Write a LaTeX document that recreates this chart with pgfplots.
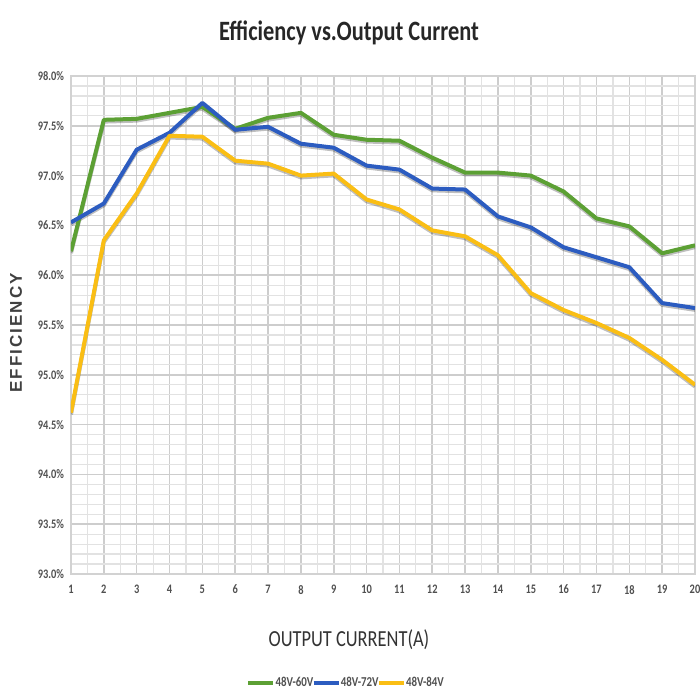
\documentclass[border=0pt]{standalone}
\usepackage{fontspec}
\setmainfont{Carlito}[FakeStretch=0.8]
\newfontfamily\ylabfont{Liberation Sans}[LetterSpace=12]
\usepackage{pgfplots}
\pgfplotsset{compat=1.18}
\definecolor{cgreen}{RGB}{92,160,52}
\definecolor{cblue}{RGB}{44,92,192}
\definecolor{cyellow}{RGB}{250,190,20}
\definecolor{tickgray}{RGB}{80,80,80}
\begin{document}
\begin{tikzpicture}
\begin{axis}[
  scale only axis,
  width=312pt, height=249pt,
  xmin=1, xmax=20, ymin=93, ymax=98,
  xtick={1,...,20},
  ytick={93,93.5,...,98},
  minor x tick num=1,
  minor y tick num=4,
  grid=both,
  major grid style={draw={rgb,255:red,205;green,205;blue,205}, line width=0.8pt},
  minor grid style={draw={rgb,255:red,226;green,226;blue,226}, line width=0.6pt},
  axis line style={draw={rgb,255:red,210;green,210;blue,210}, line width=0.8pt},
  major tick length=0pt, minor tick length=0pt,
  /pgf/number format/assume math mode=true,
  tick label style={font=\fontsize{6.5}{7}\selectfont\bfseries, text=tickgray},
  yticklabel={\pgfmathprintnumber[fixed,fixed zerofill,precision=1]{\tick}\%},
  xticklabel style={yshift=-2pt},
  title={Efficiency vs.Output Current},
  title style={font=\fontsize{14}{16}\selectfont\bfseries, text=black!85, at={(0.5,1)}, anchor=center, yshift=15.5pt, xshift=-17pt},
  xlabel={OUTPUT CURRENT(A)},
  xlabel style={font=\fontsize{11.5}{13}\selectfont, text=black!80, at={(0.5,0)}, anchor=center, yshift=-33pt, xshift=-17pt},
  ylabel={EFFICIENCY},
  ylabel style={font=\ylabfont\fontsize{8.5}{10}\selectfont\bfseries, text=black!75, at={(0,0.5)}, anchor=center, yshift=27.5pt, xshift=-4pt},
  legend style={at={(0.5,0)}, anchor=center, yshift=-54.5pt, xshift=-18pt, draw=none, fill=none,
    font=\fontsize{6.8}{7}\selectfont\bfseries, text=tickgray, legend columns=3,
    /tikz/every even column/.style={column sep=-3pt},
    /tikz/every odd column/.style={column sep=-2pt},
    /tikz/inner xsep=0.3pt},
  legend image code/.code={\draw[#1, line width=2.2pt] (0,0) -- (0.44cm,0);},
  every axis plot/.append style={line width=2pt, line join=round},
]
% shadows
\addplot[draw=black, opacity=0.25, yshift=-0.9pt, forget plot] coordinates {(1,96.24) (2,97.56) (3,97.57) (4,97.63) (5,97.69) (6,97.47) (7,97.58) (8,97.63) (9,97.41) (10,97.36) (11,97.35) (12,97.18) (13,97.03) (14,97.03) (15,97.00) (16,96.84) (17,96.57) (18,96.49) (19,96.22) (20,96.30)};
\addplot[draw=black, opacity=0.25, yshift=-0.9pt, forget plot] coordinates {(1,96.53) (2,96.72) (3,97.26) (4,97.43) (5,97.73) (6,97.46) (7,97.49) (8,97.32) (9,97.28) (10,97.10) (11,97.06) (12,96.87) (13,96.86) (14,96.59) (15,96.48) (16,96.28) (17,96.18) (18,96.08) (19,95.72) (20,95.67)};
\addplot[draw=black, opacity=0.25, yshift=-0.9pt, forget plot] coordinates {(1,94.62) (2,96.35) (3,96.82) (4,97.40) (5,97.39) (6,97.15) (7,97.12) (8,97.00) (9,97.02) (10,96.76) (11,96.66) (12,96.45) (13,96.39) (14,96.20) (15,95.82) (16,95.65) (17,95.52) (18,95.37) (19,95.15) (20,94.90)};
% series
\addplot[draw=cgreen] coordinates {(1,96.24) (2,97.56) (3,97.57) (4,97.63) (5,97.69) (6,97.47) (7,97.58) (8,97.63) (9,97.41) (10,97.36) (11,97.35) (12,97.18) (13,97.03) (14,97.03) (15,97.00) (16,96.84) (17,96.57) (18,96.49) (19,96.22) (20,96.30)};
\addlegendentry{48V-60V}
\addplot[draw=cblue] coordinates {(1,96.53) (2,96.72) (3,97.26) (4,97.43) (5,97.73) (6,97.46) (7,97.49) (8,97.32) (9,97.28) (10,97.10) (11,97.06) (12,96.87) (13,96.86) (14,96.59) (15,96.48) (16,96.28) (17,96.18) (18,96.08) (19,95.72) (20,95.67)};
\addlegendentry{48V-72V}
\addplot[draw=cyellow] coordinates {(1,94.62) (2,96.35) (3,96.82) (4,97.40) (5,97.39) (6,97.15) (7,97.12) (8,97.00) (9,97.02) (10,96.76) (11,96.66) (12,96.45) (13,96.39) (14,96.20) (15,95.82) (16,95.65) (17,95.52) (18,95.37) (19,95.15) (20,94.90)};
\addlegendentry{48V-84V}
\end{axis}
\pgfresetboundingbox
\useasboundingbox (current axis.south west) ++(-35.5pt,-63pt) rectangle ++(350pt,350pt);
\end{tikzpicture}
\end{document}
